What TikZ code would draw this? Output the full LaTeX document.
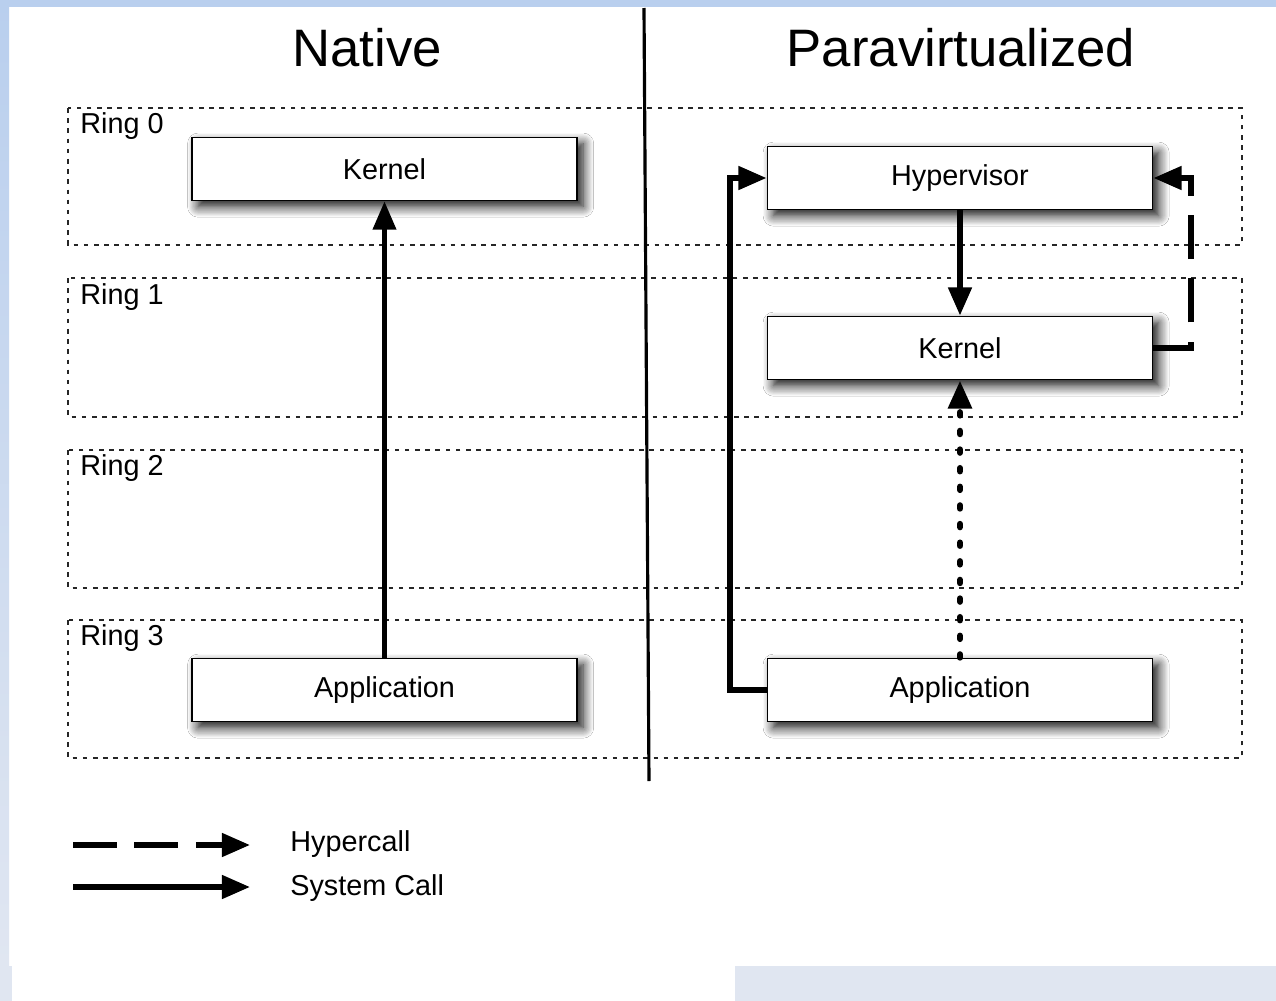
\documentclass[tikz,border=0pt]{standalone}
\usepackage{fontspec}
\setmainfont{Liberation Sans}
\usetikzlibrary{arrows.meta,shadows.blur}
\definecolor{topblue}{HTML}{B9CFEE}
\definecolor{paleblue}{HTML}{E0E6F1}
\tikzset{
  ringbox/.style={draw=black!85, line width=0.9pt, dash pattern=on 2.6pt off 3.2pt},
  ringlabel/.style={anchor=base west, inner sep=0pt, font=\fontsize{16.4}{18}\selectfont},
  compbox/.style={draw=black, line width=1.1pt, fill=white, minimum width=385*0.02cm, minimum height=63*0.02cm, inner sep=0pt, font=\fontsize{16.4}{18}\selectfont, blur shadow={shadow xshift=3.5pt, shadow yshift=-3.5pt, shadow blur radius=6pt, shadow blur steps=10, shadow opacity=95}},
  titletext/.style={anchor=base, inner sep=0pt, font=\fontsize{30}{34}\selectfont},
  arrowtip/.style={-{Triangle[length=16pt,width=13pt]}},
  syscall/.style={line width=3pt, arrowtip},
  thinsys/.style={line width=2.5pt, arrowtip},
  hypcall/.style={line width=3pt, dash pattern=on 25pt off 11pt, arrowtip},
  dotcall/.style={line width=3.6pt, line cap=round, dash pattern=on 1.8pt off 8.8pt, arrowtip},
  legendtext/.style={anchor=west, inner sep=0pt, font=\fontsize{16.4}{18}\selectfont},
}
\begin{document}
\begin{tikzpicture}[x=0.02cm, y=-0.02cm]
% background
\fill[white] (0,0) rectangle (1276,1001);
\fill[topblue] (0,0) rectangle (1276,7);
\shade[top color=topblue, bottom color=paleblue] (0,0) rectangle (9,966);
\fill[paleblue] (0,966) rectangle (12,1001);
\fill[paleblue] (735,966) rectangle (1276,1001);
\useasboundingbox (0,0) rectangle (1276,1001);

% titles
\node[titletext] (tnative) at (367,66) {Native};
\node[titletext] (tpara) at (961,66) {Paravirtualized};

% rings
\draw[ringbox] (68,108) rectangle (1242,245);
\draw[ringbox] (68,278) rectangle (1242,417);
\draw[ringbox] (68,450) rectangle (1242,588);
\draw[ringbox] (68,620) rectangle (1242,758);
\node[ringlabel] (r0) at (80,133) {Ring 0};
\node[ringlabel] (r1) at (80,304) {Ring 1};
\node[ringlabel] (r2) at (80,475) {Ring 2};
\node[ringlabel] (r3) at (80,645) {Ring 3};

% divider
\coordinate (dtop) at (644,8);
\coordinate (dbot) at (649,781);
\draw[line width=1.8pt] (dtop) -- (dbot);

% native
\node[compbox] (nkernel) at (384.5,169) {Kernel};
\node[compbox] (napp) at (384.5,690) {Application};
\draw[thinsys] (napp.north) -- (nkernel.south);

% paravirtualized
\node[compbox] (hyp) at (960,178) {Hypervisor};
\node[compbox] (pkernel) at (960,348) {Kernel};
\node[compbox] (papp) at (960,690) {Application};
\draw[syscall] (hyp.south) -- (pkernel.north);
\draw[dotcall] (papp.north) -- (pkernel.south);
\draw[syscall] (papp.west) -- (730,690) -- (730,178) -- (hyp.west);
\draw[hypcall] (pkernel.east) -- (1191,348) -- (1191,178) -- (hyp.east);

% legend
\coordinate (l1a) at (73,845);
\coordinate (l1b) at (250,845);
\coordinate (l2a) at (73,887);
\coordinate (l2b) at (250,887);
\draw[hypcall, dash pattern=on 25pt off 10pt] (l1a) -- (l1b);
\draw[syscall] (l2a) -- (l2b);
\node[legendtext] (lhyp) at (290,844) {Hypercall};
\node[legendtext] (lsys) at (290,888) {System Call};
\end{tikzpicture}
\end{document}
